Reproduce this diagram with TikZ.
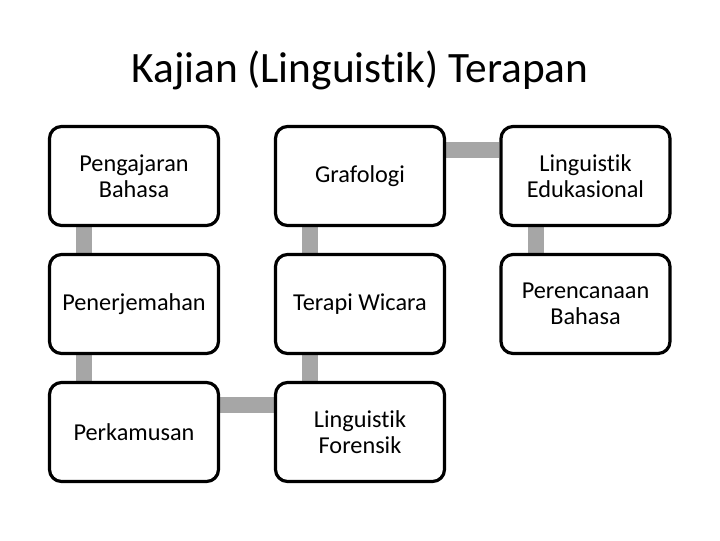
\documentclass[tikz,border=0pt]{standalone}
\usepackage{fontspec}
\setmainfont{Carlito}[Ligatures={NoCommon,NoRequired,NoContextual}]
\usetikzlibrary{backgrounds}
\definecolor{conn}{RGB}{166,166,166}
\tikzset{
  box/.style={draw=black, line width=2.4pt, fill=white, rounded corners=9pt,
    minimum width=126.75pt, minimum height=74.25pt, inner sep=0pt, align=center,
    font=\fontsize{18.2}{19.5}\selectfont},
  link/.style={draw=conn, line width=12pt},
  title/.style={font=\fontsize{32.5}{36}\selectfont, anchor=base}
}
\begin{document}
\begin{tikzpicture}[x=0.75pt,y=-0.75pt]
\useasboundingbox (0,0) rectangle (720,540);
\node[title] (t) at (360,82) {Kajian (Linguistik) Terapan};
\node[box] (a1) at (134,176) {Pengajaran\\Bahasa};
\node[box] (a2) at (134,304) {Penerjemahan};
\node[box] (a3) at (134,432) {Perkamusan};
\node[box] (b1) at (360,176) {Grafologi};
\node[box] (b2) at (360,304) {Terapi Wicara};
\node[box] (b3) at (360,432) {Linguistik\\Forensik};
\node[box] (c1) at (585.5,176) {Linguistik\\Edukasional};
\node[box] (c2) at (585.5,304) {Perencanaan\\Bahasa};
\begin{scope}[on background layer]
\draw[link] ([xshift=-37.5pt]a1.south) -- ([xshift=-37.5pt]a2.north);
\draw[link] ([xshift=-37.5pt]a2.south) -- ([xshift=-37.5pt]a3.north);
\draw[link] ([yshift=20pt]a3.east) -- ([yshift=20pt]b3.west);
\draw[link] ([xshift=-37.5pt]b3.north) -- ([xshift=-37.5pt]b2.south);
\draw[link] ([xshift=-37.5pt]b2.north) -- ([xshift=-37.5pt]b1.south);
\draw[link] ([yshift=19.5pt]b1.east) -- ([yshift=19.5pt]c1.west);
\draw[link] ([xshift=-37.5pt]c1.south) -- ([xshift=-37.5pt]c2.north);
\end{scope}
\end{tikzpicture}
\end{document}
